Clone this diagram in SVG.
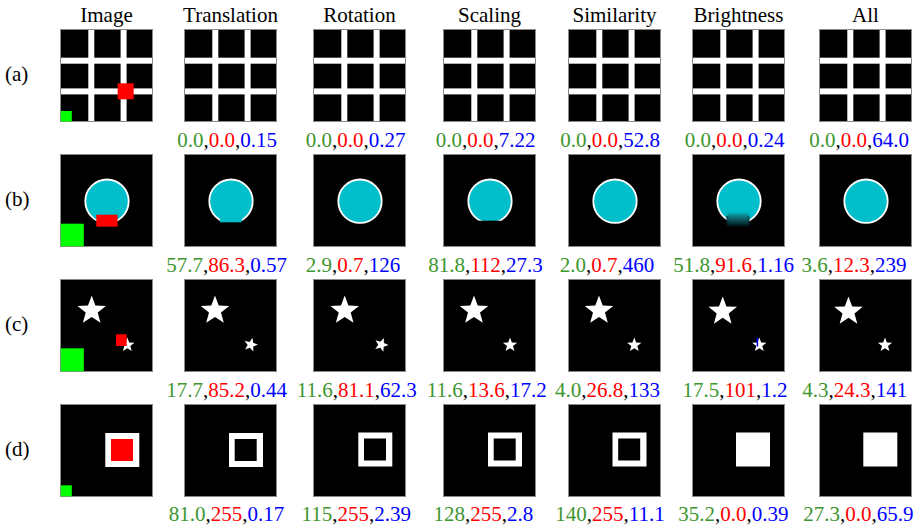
<svg xmlns="http://www.w3.org/2000/svg" width="918" height="525" viewBox="0 0 918 525">
<style>
text{font-size:21px;fill:#000}
.hdr,.num{text-anchor:middle}
.g{fill:#3d962e}.r{fill:#ff0000}.b{fill:#0000ff}
.frame{fill:#000;stroke:#8a8a8a;stroke-width:1}
.w{fill:#fff}
.red{fill:#ff0000}.grn{fill:#00ff00}
.k{fill:#000}
.cy{fill:#00bfca}
</style>
<defs>
<rect id="frame" class="frame" x="0.5" y="0.5" width="92" height="92"/>
<g id="grid">
<use href="#frame"/>
<rect class="w" x="28.3" y="1" width="6" height="91"/>
<rect class="w" x="60.6" y="1" width="6" height="91"/>
<rect class="w" x="1" y="28.7" width="91" height="6"/>
<rect class="w" x="1" y="59.4" width="91" height="6"/>
</g>
<circle id="disc" cx="47" cy="47.2" r="21.7" fill="#00bfca" stroke="#fff" stroke-width="1.8"/>
<path id="star" fill="#fff" d="M0,-1L0.2469,-0.3398L0.9511,-0.309L0.3995,0.1298L0.5878,0.809L0,0.42L-0.5878,0.809L-0.3995,0.1298L-0.9511,-0.309L-0.2469,-0.3398Z"/>
<linearGradient id="dim" x1="0" y1="0" x2="0" y2="1">
<stop offset="0" stop-color="#0a9aa3"/>
<stop offset="0.35" stop-color="#0c6a72"/>
<stop offset="1" stop-color="#021a1c"/>
</linearGradient>
<filter id="soft" x="-20%" y="-20%" width="140%" height="140%"><feGaussianBlur stdDeviation="0.8"/></filter>
</defs>

<g id="labels" font-family="Liberation Serif, Times New Roman, DejaVu Serif, serif">
<g id="headers">
<text class="hdr" x="106.5" y="22">Image</text>
<text class="hdr" x="230.5" y="22">Translation</text>
<text class="hdr" x="359.5" y="22">Rotation</text>
<text class="hdr" x="489.5" y="22">Scaling</text>
<text class="hdr" x="614.5" y="22">Similarity</text>
<text class="hdr" x="738.5" y="22">Brightness</text>
<text class="hdr" x="865.5" y="22">All</text>
</g>
<g id="row-labels">
<text x="5" y="81">(a)</text>
<text x="5" y="206">(b)</text>
<text x="5" y="331">(c)</text>
<text x="5" y="456">(d)</text>
</g>

<g id="scores">
<text class="num" x="227" y="147"><tspan class="g">0.0</tspan>,<tspan class="r">0.0</tspan>,<tspan class="b">0.15</tspan></text>
<text class="num" x="355.5" y="147"><tspan class="g">0.0</tspan>,<tspan class="r">0.0</tspan>,<tspan class="b">0.27</tspan></text>
<text class="num" x="485.5" y="147"><tspan class="g">0.0</tspan>,<tspan class="r">0.0</tspan>,<tspan class="b">7.22</tspan></text>
<text class="num" x="610" y="147"><tspan class="g">0.0</tspan>,<tspan class="r">0.0</tspan>,<tspan class="b">52.8</tspan></text>
<text class="num" x="734.5" y="147"><tspan class="g">0.0</tspan>,<tspan class="r">0.0</tspan>,<tspan class="b">0.24</tspan></text>
<text class="num" x="859" y="147"><tspan class="g">0.0</tspan>,<tspan class="r">0.0</tspan>,<tspan class="b">64.0</tspan></text>

<text class="num" x="226.5" y="272"><tspan class="g">57.7</tspan>,<tspan class="r">86.3</tspan>,<tspan class="b">0.57</tspan></text>
<text class="num" x="353" y="272"><tspan class="g">2.9</tspan>,<tspan class="r">0.7</tspan>,<tspan class="b">126</tspan></text>
<text class="num" x="485.5" y="272"><tspan class="g">81.8</tspan>,<tspan class="r">112</tspan>,<tspan class="b">27.3</tspan></text>
<text class="num" x="607" y="272"><tspan class="g">2.0</tspan>,<tspan class="r">0.7</tspan>,<tspan class="b">460</tspan></text>
<text class="num" x="733.5" y="272"><tspan class="g">51.8</tspan>,<tspan class="r">91.6</tspan>,<tspan class="b">1.16</tspan></text>
<text class="num" x="854" y="272"><tspan class="g">3.6</tspan>,<tspan class="r">12.3</tspan>,<tspan class="b">239</tspan></text>

<text class="num" x="226.5" y="397"><tspan class="g">17.7</tspan>,<tspan class="r">85.2</tspan>,<tspan class="b">0.44</tspan></text>
<text class="num" x="356.7" y="397"><tspan class="g">11.6</tspan>,<tspan class="r">81.1</tspan>,<tspan class="b">62.3</tspan></text>
<text class="num" x="486.7" y="397"><tspan class="g">11.6</tspan>,<tspan class="r">13.6</tspan>,<tspan class="b">17.2</tspan></text>
<text class="num" x="607.5" y="397"><tspan class="g">4.0</tspan>,<tspan class="r">26.8</tspan>,<tspan class="b">133</tspan></text>
<text class="num" x="735" y="397"><tspan class="g">17.5</tspan>,<tspan class="r">101</tspan>,<tspan class="b">1.2</tspan></text>
<text class="num" x="854.7" y="397"><tspan class="g">4.3</tspan>,<tspan class="r">24.3</tspan>,<tspan class="b">141</tspan></text>

<text class="num" x="226.5" y="520.5"><tspan class="g">81.0</tspan>,<tspan class="r">255</tspan>,<tspan class="b">0.17</tspan></text>
<text class="num" x="356.3" y="520.5"><tspan class="g">115</tspan>,<tspan class="r">255</tspan>,<tspan class="b">2.39</tspan></text>
<text class="num" x="483.3" y="520.5"><tspan class="g">128</tspan>,<tspan class="r">255</tspan>,<tspan class="b">2.8</tspan></text>
<text class="num" x="610" y="520.5"><tspan class="g">140</tspan>,<tspan class="r">255</tspan>,<tspan class="b">11.1</tspan></text>
<text class="num" x="733.3" y="520.5"><tspan class="g">35.2</tspan>,<tspan class="r">0.0</tspan>,<tspan class="b">0.39</tspan></text>
<text class="num" x="858.3" y="520.5"><tspan class="g">27.3</tspan>,<tspan class="r">0.0</tspan>,<tspan class="b">65.9</tspan></text>
</g>
</g>

<!-- Row (a) -->
<g id="a-image" transform="translate(60,29)">
<use href="#grid"/>
<rect class="red" x="57.7" y="54.3" width="16" height="16"/>
<rect class="grn" x="0.8" y="82" width="11" height="10.5"/>
</g>
<g id="a-translation" transform="translate(184,29)"><use href="#grid"/></g>
<g id="a-rotation" transform="translate(313,29)"><use href="#grid"/></g>
<g id="a-scaling" transform="translate(443,29)"><use href="#grid"/></g>
<g id="a-similarity" transform="translate(568,29)"><use href="#grid"/></g>
<g id="a-brightness" transform="translate(692,29)"><use href="#grid"/></g>
<g id="a-all" transform="translate(819,29)"><use href="#grid"/></g>

<!-- Row (b) -->
<g id="b-image" transform="translate(60,154)">
<use href="#frame"/><use href="#disc"/>
<rect class="red" x="36.3" y="60.7" width="21.3" height="12"/>
<rect class="grn" x="0.8" y="69.7" width="23" height="22.5"/>
</g>
<g id="b-translation" transform="translate(184,154)">
<use href="#frame"/><use href="#disc"/>
<rect class="k" x="36" y="66" width="21.7" height="6"/>
<rect class="cy" x="36" y="60" width="21.7" height="8.3"/>
</g>
<g id="b-rotation" transform="translate(313,154)"><use href="#frame"/><use href="#disc"/></g>
<g id="b-scaling" transform="translate(443,154)">
<use href="#frame"/><use href="#disc"/>
<rect class="k" x="35.3" y="66.7" width="22.4" height="6"/>
</g>
<g id="b-similarity" transform="translate(568,154)"><use href="#frame"/><use href="#disc"/></g>
<g id="b-brightness" transform="translate(692,154)">
<use href="#frame"/><use href="#disc"/>
<rect class="k" x="34.7" y="62" width="22.5" height="10"/>
<rect x="35" y="59.5" width="22" height="12.5" fill="url(#dim)" filter="url(#soft)"/>
</g>
<g id="b-all" transform="translate(819,154)"><use href="#frame"/><use href="#disc"/></g>

<!-- Row (c) -->
<g id="c-image" transform="translate(60,279)">
<use href="#frame"/>
<use href="#star" transform="translate(31.7,31.6) scale(15)"/>
<use href="#star" transform="translate(67.3,66) scale(7.5)"/>
<rect class="red" x="56" y="55.3" width="10.7" height="11.7"/>
<rect class="grn" x="0.8" y="69.3" width="23" height="23"/>
</g>
<g id="c-translation" transform="translate(184,279)">
<use href="#frame"/>
<use href="#star" transform="translate(31,31.6) scale(15)"/>
<use href="#star" transform="translate(66.7,65.8) rotate(15) scale(7.3)"/>
</g>
<g id="c-rotation" transform="translate(313,279)">
<use href="#frame"/>
<use href="#star" transform="translate(31.7,31.6) scale(15)"/>
<use href="#star" transform="translate(68.3,65.8) rotate(20) scale(7.3)"/>
</g>
<g id="c-scaling" transform="translate(443,279)">
<use href="#frame"/>
<use href="#star" transform="translate(31,31.6) scale(15)"/>
<use href="#star" transform="translate(67,66) scale(7.5)"/>
</g>
<g id="c-similarity" transform="translate(568,279)">
<use href="#frame"/>
<use href="#star" transform="translate(31,31.6) scale(15)"/>
<use href="#star" transform="translate(66.3,66) scale(7.5)"/>
</g>
<g id="c-brightness" transform="translate(692,279)">
<use href="#frame"/>
<use href="#star" transform="translate(30.7,32.5) scale(15)"/>
<use href="#star" transform="translate(67.3,66) scale(7.5)"/>
<rect fill="#0000ff" x="64.6" y="59" width="1.6" height="8.5"/>
</g>
<g id="c-all" transform="translate(819,279)">
<use href="#frame"/>
<use href="#star" transform="translate(29.5,32.5) scale(15)"/>
<use href="#star" transform="translate(66,66) scale(7.5)"/>
</g>

<!-- Row (d) -->
<g id="d-image" transform="translate(60,404)">
<use href="#frame"/>
<rect class="w" x="45.3" y="29" width="34" height="34"/>
<rect class="red" x="51" y="35" width="22" height="22"/>
<rect class="grn" x="0.8" y="81.3" width="11" height="11"/>
</g>
<g id="d-translation" transform="translate(184,404)">
<use href="#frame"/>
<rect class="w" x="45" y="29" width="34" height="34"/>
<rect class="k" x="50.7" y="35" width="22" height="22"/>
</g>
<g id="d-rotation" transform="translate(313,404)">
<use href="#frame"/>
<rect class="w" x="45.3" y="28.5" width="34" height="34"/>
<rect class="k" x="51" y="34.5" width="22" height="22"/>
</g>
<g id="d-scaling" transform="translate(443,404)">
<use href="#frame"/>
<rect class="w" x="45" y="28.5" width="34" height="34"/>
<rect class="k" x="50.7" y="34.5" width="22" height="22"/>
</g>
<g id="d-similarity" transform="translate(568,404)">
<use href="#frame"/>
<rect class="w" x="44.5" y="28.5" width="34" height="34"/>
<rect class="k" x="50.2" y="34.5" width="22" height="22"/>
</g>
<g id="d-brightness" transform="translate(692,404)">
<use href="#frame"/>
<rect class="w" x="44" y="28.5" width="34" height="34"/>
</g>
<g id="d-all" transform="translate(819,404)">
<use href="#frame"/>
<rect class="w" x="44.3" y="28.5" width="34" height="34"/>
</g>

<g id="connectors"/>
</svg>
